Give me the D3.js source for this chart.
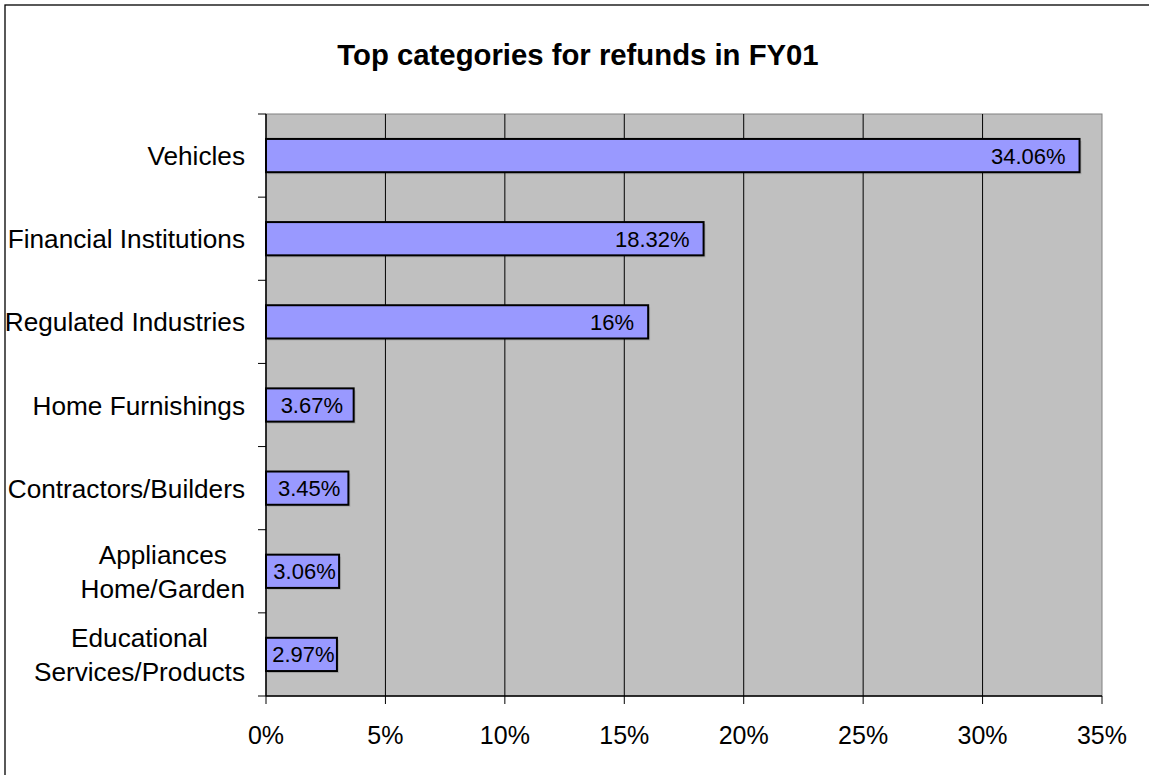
<!DOCTYPE html>
<html>
<head>
<meta charset="utf-8">
<script src="https://cdn.jsdelivr.net/npm/d3@7"></script>
<style>
  html, body { margin: 0; padding: 0; background: #fff; }
  svg { display: block; font-family: Arial, "Liberation Sans", sans-serif; }
</style>
</head>
<body>
<svg id="chart" width="1149" height="775"></svg>
<script>
// Share of refunds by complaint category, FY01
const categories = [
  ["Vehicles"],
  ["Financial Institutions"],
  ["Regulated Industries"],
  ["Home Furnishings"],
  ["Contractors/Builders"],
  ["Appliances", "Home/Garden"],
  ["Educational", "Services/Products"]
];
const shares = [34.06, 18.32, 16, 3.67, 3.45, 3.06, 2.97];
const valueLabels = ["34.06%", "18.32%", "16%", "3.67%", "3.45%", "3.06%", "2.97%"];
const xTicks = [0, 5, 10, 15, 20, 25, 30, 35];
const title = "Top categories for refunds in FY01";

const svg = d3.select("#chart");
const plot = { left: 266, right: 1102, top: 114, bottom: 696 };

// chart frame
svg.append("rect")
  .attr("x", 5).attr("y", 5).attr("width", 1170).attr("height", 790)
  .attr("fill", "#fff").attr("stroke", "#000").attr("stroke-width", 1.3);

svg.append("text")
  .attr("x", 578).attr("y", 65)
  .attr("text-anchor", "middle")
  .attr("font-size", 29.3).attr("font-weight", "bold")
  .text(title);

const x = d3.scaleLinear().domain([0, 35]).range([plot.left, plot.right]);
const y = d3.scaleBand()
  .domain(d3.range(categories.length))
  .range([plot.top, plot.bottom])
  .paddingInner(0.6).paddingOuter(0.3);

// plot background
svg.append("rect")
  .attr("x", plot.left).attr("y", plot.top)
  .attr("width", plot.right - plot.left).attr("height", plot.bottom - plot.top)
  .attr("fill", "#c0c0c0").attr("stroke", "#808080").attr("stroke-width", 1);

// vertical gridlines
svg.append("g")
  .selectAll("line")
  .data(xTicks.filter(t => t > 0 && t < 35))
  .join("line")
  .attr("x1", d => x(d)).attr("x2", d => x(d))
  .attr("y1", plot.top).attr("y2", plot.bottom)
  .attr("stroke", "#000").attr("stroke-width", 1);

// bars with a soft drop shadow
const bars = svg.append("g");
bars.selectAll("rect.shadow")
  .data(shares)
  .join("rect")
  .attr("class", "shadow")
  .attr("x", x(0) + 2)
  .attr("y", (d, i) => y(i) + 2)
  .attr("width", d => x(d) - x(0))
  .attr("height", y.bandwidth())
  .attr("fill", "#000").attr("opacity", 0.12);

bars.selectAll("rect.bar")
  .data(shares)
  .join("rect")
  .attr("class", "bar")
  .attr("x", x(0))
  .attr("y", (d, i) => y(i))
  .attr("width", d => x(d) - x(0))
  .attr("height", y.bandwidth())
  .attr("fill", "#9999ff").attr("stroke", "#000").attr("stroke-width", 2);

// value labels: inside the bar end, centred when the bar is too short
const labels = svg.append("g")
  .selectAll("text")
  .data(shares)
  .join("text")
  .attr("font-size", 22)
  .attr("y", (d, i) => y(i) + y.bandwidth() / 2 + 8)
  .text((d, i) => valueLabels[i]);
labels.each(function (d) {
  const w = this.getComputedTextLength();
  const x0 = x(0), x1 = x(d);
  let tx;
  if (w + 30 > x1 - x0) tx = (x0 + x1) / 2 - w / 2 + 2;
  else tx = x1 - 14 - w;
  d3.select(this).attr("x", tx);
});

// y axis (category axis)
const yAxis = svg.append("g");
yAxis.append("line")
  .attr("x1", plot.left).attr("x2", plot.left)
  .attr("y1", plot.top).attr("y2", plot.bottom)
  .attr("stroke", "#000").attr("stroke-width", 1.5);
const bounds = d3.range(categories.length + 1).map(i => plot.top + i * y.step());
yAxis.selectAll("line.tick")
  .data(bounds)
  .join("line")
  .attr("class", "tick")
  .attr("x1", plot.left - 8).attr("x2", plot.left)
  .attr("y1", d => d).attr("y2", d => d)
  .attr("stroke", "#000").attr("stroke-width", 1);

// category labels, multi-line labels centred as a block and right-aligned
const lineGap = 33.5;
categories.forEach((lines, i) => {
  const cy = y(i) + y.bandwidth() / 2;
  const g = svg.append("g");
  const texts = lines.map((ln, j) => g.append("text")
    .attr("font-size", 26.2)
    .attr("y", cy + 9.5 + (j - (lines.length - 1) / 2) * lineGap)
    .text(ln));
  const widths = texts.map(t => t.node().getComputedTextLength());
  const maxW = d3.max(widths);
  const right = 245;
  texts.forEach(t => t.attr("x", right - maxW / 2).attr("text-anchor", "middle"));
});

// x axis
const xAxis = svg.append("g");
xAxis.append("line")
  .attr("x1", plot.left).attr("x2", plot.right)
  .attr("y1", plot.bottom).attr("y2", plot.bottom)
  .attr("stroke", "#000").attr("stroke-width", 1.5);
xAxis.selectAll("line.tick")
  .data(xTicks)
  .join("line")
  .attr("class", "tick")
  .attr("x1", d => x(d)).attr("x2", d => x(d))
  .attr("y1", plot.bottom).attr("y2", plot.bottom + 8)
  .attr("stroke", "#000").attr("stroke-width", 1);
xAxis.selectAll("text")
  .data(xTicks)
  .join("text")
  .attr("x", d => x(d))
  .attr("y", 744)
  .attr("text-anchor", "middle")
  .attr("font-size", 25)
  .text(d => d + "%");
</script>
</body>
</html>
